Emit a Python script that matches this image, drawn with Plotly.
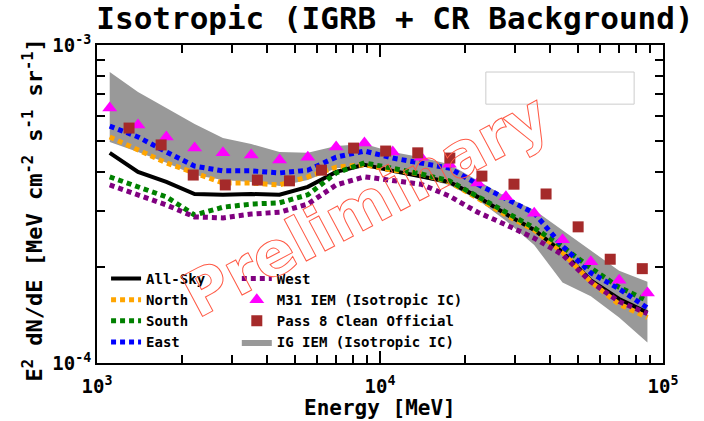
import numpy as np
import plotly.graph_objects as go

# ---------------- data ----------------
energy = [1109, 1396, 1758, 2213, 2786, 3508, 4416, 5559, 6998, 8811,
          11092, 13964, 17579, 22131, 27861, 35075, 44157, 55590, 69984, 88105]

all_sky = [4.58e-4, 3.99e-4, 3.71e-4, 3.40e-4, 3.38e-4, 3.40e-4, 3.38e-4, 3.58e-4, 3.99e-4, 4.20e-4,
           4.02e-4, 3.87e-4, 3.71e-4, 3.33e-4, 2.94e-4, 2.62e-4, 2.23e-4, 1.82e-4, 1.59e-4, 1.44e-4]
north = [5.14e-4, 4.68e-4, 4.26e-4, 3.96e-4, 3.68e-4, 3.68e-4, 3.63e-4, 3.85e-4, 4.13e-4, 4.20e-4,
         4.04e-4, 3.93e-4, 3.71e-4, 3.30e-4, 2.92e-4, 2.62e-4, 2.23e-4, 1.80e-4, 1.53e-4, 1.39e-4]
south = [3.85e-4, 3.58e-4, 3.33e-4, 2.92e-4, 3.09e-4, 3.16e-4, 3.19e-4, 3.38e-4, 3.96e-4, 4.26e-4,
         4.10e-4, 3.93e-4, 3.74e-4, 3.33e-4, 2.96e-4, 2.66e-4, 2.32e-4, 1.99e-4, 1.73e-4, 1.57e-4]
east = [5.56e-4, 5.14e-4, 4.61e-4, 4.16e-4, 4.02e-4, 4.02e-4, 3.96e-4, 4.04e-4, 4.44e-4, 4.64e-4,
        4.41e-4, 4.26e-4, 4.10e-4, 3.65e-4, 3.30e-4, 2.96e-4, 2.33e-4, 1.92e-4, 1.71e-4, 1.49e-4]
west = [3.63e-4, 3.38e-4, 3.14e-4, 2.88e-4, 2.86e-4, 2.94e-4, 2.98e-4, 3.16e-4, 3.63e-4, 3.85e-4,
        3.76e-4, 3.65e-4, 3.35e-4, 2.98e-4, 2.72e-4, 2.47e-4, 2.19e-4, 1.80e-4, 1.56e-4, 1.43e-4]
m31_iem = [6.34e-4, 5.60e-4, 5.14e-4, 4.74e-4, 4.58e-4, 4.51e-4, 4.35e-4, 4.44e-4, 4.78e-4, 4.92e-4,
           4.61e-4, 4.44e-4, 4.22e-4, 3.68e-4, 3.33e-4, 2.96e-4, 2.44e-4, 2.08e-4, 1.82e-4, 1.66e-4]
ig_iem_high = [8.22e-4, 7.12e-4, 6.34e-4, 5.64e-4, 5.10e-4, 4.88e-4, 4.61e-4, 4.58e-4, 4.81e-4, 4.88e-4,
               4.61e-4, 4.44e-4, 4.22e-4, 3.76e-4, 3.33e-4, 3.03e-4, 2.62e-4, 2.27e-4, 1.95e-4, 1.80e-4]
ig_iem_low = [4.95e-4, 4.61e-4, 4.26e-4, 3.90e-4, 3.76e-4, 3.71e-4, 3.60e-4, 3.76e-4, 4.10e-4, 4.16e-4,
              3.99e-4, 3.82e-4, 3.63e-4, 3.26e-4, 2.80e-4, 2.35e-4, 1.79e-4, 1.62e-4, 1.39e-4, 1.16e-4]

pass8_energy = [1000, 1298, 1685, 2188, 2840, 3687, 4787, 6214, 8068, 10473,
                13597, 17651, 22915, 29749, 38620, 50137, 65088, 84498]
pass8_clean = [5.94e-4, 5.48e-4, 4.85e-4, 3.90e-4, 3.63e-4, 3.76e-4, 3.74e-4, 4.04e-4, 4.74e-4, 4.64e-4,
               4.58e-4, 4.41e-4, 3.87e-4, 3.65e-4, 3.40e-4, 2.68e-4, 2.12e-4, 1.98e-4]

x_tick_vals = [1e3, 1e4, 1e5]
x_tick_text = ["10<sup>3</sup>", "10<sup>4</sup>", "10<sup>5</sup>"]
y_tick_vals = [1e-4, 1e-3]
y_tick_text = ["10<sup>-4</sup>", "10<sup>-3</sup>"]

FONT = "DejaVu Sans Mono"
DOT = "5px,4px"

x_minor = [m * 10.0 ** k for k in (3, 4) for m in range(2, 10)]
y_minor = [m * 1e-4 for m in range(2, 10)]

fig = go.Figure()

# gray band (IG IEM)
fig.add_trace(go.Scatter(x=energy, y=ig_iem_low, mode="lines", line=dict(width=0, color="rgb(153,153,153)"),
                         showlegend=False, hoverinfo="skip"))
fig.add_trace(go.Scatter(x=energy, y=ig_iem_high, mode="lines", fill="tonexty",
                         fillcolor="rgb(153,153,153)", line=dict(width=0, color="rgb(153,153,153)"),
                         name="IG IEM (Isotropic IC)", legend="legend2", legendrank=4))

fig.add_trace(go.Scatter(x=energy, y=all_sky, mode="lines", name="All-Sky",
                         line=dict(color="black", width=4), legendrank=1))
fig.add_trace(go.Scatter(x=energy, y=north, mode="lines", name="North",
                         line=dict(color="rgb(255,165,0)", width=5, dash=DOT), legendrank=2))
fig.add_trace(go.Scatter(x=energy, y=south, mode="lines", name="South",
                         line=dict(color="rgb(0,128,0)", width=5, dash=DOT), legendrank=3))
fig.add_trace(go.Scatter(x=energy, y=east, mode="lines", name="East",
                         line=dict(color="rgb(0,0,255)", width=5, dash=DOT), legendrank=4))
fig.add_trace(go.Scatter(x=energy, y=west, mode="lines", name="West",
                         line=dict(color="rgb(128,0,128)", width=5, dash=DOT),
                         legend="legend2", legendrank=1))
fig.add_trace(go.Scatter(x=energy, y=m31_iem, mode="markers", name="M31 IEM (Isotropic IC)",
                         marker=dict(symbol="triangle-up", size=13, color="rgb(255,0,255)", line=dict(width=0)),
                         legend="legend2", legendrank=2, cliponaxis=False))
fig.add_trace(go.Scatter(x=pass8_energy, y=pass8_clean, mode="markers", name="Pass 8 Clean Official",
                         marker=dict(symbol="square", size=11, color="rgb(165,42,42)", line=dict(width=0)),
                         legend="legend2", legendrank=3, cliponaxis=False))

axis_common = dict(
    type="log", showgrid=False, zeroline=False, automargin=False,
    showline=True, linecolor="black", linewidth=2, mirror="allticks",
    ticks="inside", ticklen=12, tickwidth=2, tickcolor="black",
    tickfont=dict(family=FONT, size=19, color="black", weight="bold"),
)

fig.update_xaxes(
    range=[3, 5], tickvals=x_tick_vals, ticktext=x_tick_text, ticklabelstandoff=5,
    minor=dict(tickvals=x_minor, ticks="inside", ticklen=8, tickwidth=1.5, tickcolor="black"),
    **axis_common,
)
fig.update_yaxes(
    range=[-4, -3], tickvals=y_tick_vals, ticktext=y_tick_text,
    minor=dict(tickvals=y_minor, ticks="inside", ticklen=8, tickwidth=1.5, tickcolor="black"),
    **axis_common,
)

legend_style = dict(
    bgcolor="rgba(0,0,0,0)", borderwidth=0, itemwidth=30, tracegroupgap=0,
    font=dict(family=FONT, size=14, color="black", weight="bold"),
    xanchor="left", yanchor="top", orientation="v", traceorder="normal",
)

fig.update_layout(
    width=704, height=421,
    margin=dict(l=97, r=41, t=45, b=58, autoexpand=False),
    paper_bgcolor="white", plot_bgcolor="white",
    font=dict(family=FONT, color="black"),
    title=dict(text="Isotropic (IGRB + CR Background)", x=0.561, xref="container", xanchor="center",
               y=0.957, yref="container", yanchor="middle",
               font=dict(family=FONT, size=31, color="black", weight="bold")),
    legend=dict(x=0.016, y=0.315, **legend_style),
    legend2=dict(x=0.247, y=0.315, **legend_style),
    showlegend=True,
    shapes=[dict(type="rect", xref="paper", yref="paper", x0=0.687, x1=0.949, y0=0.814, y1=0.915,
                 line=dict(color="rgb(204,204,204)", width=1), fillcolor="white", layer="above")],
    annotations=[
        dict(text="Energy [MeV]", xref="paper", yref="paper", x=0.5, y=-0.14,
             xanchor="center", yanchor="middle", showarrow=False,
             font=dict(family=FONT, size=21, color="black", weight="bold")),
        dict(text="E<sup>2</sup> dN/dE [MeV cm<sup>-2</sup> s<sup>-1</sup> sr<sup>-1</sup>]",
             xref="paper", yref="paper", x=-0.113, y=0.48, textangle=-90,
             xanchor="center", yanchor="middle", showarrow=False,
             font=dict(family=FONT, size=22, color="black", weight="bold")),
        dict(text="Preliminary", xref="paper", yref="paper", x=0.4735, y=0.494,
             xanchor="center", yanchor="middle", showarrow=False, textangle=-28,
             font=dict(family="DejaVu Sans", size=62, color="rgba(255,90,70,0.35)", weight="bold")),
    ],
)

post = """
document.body.style.margin = '0';
var gd = document.getElementById('{plot_id}');
function wm(){
  var ts = gd.querySelectorAll('text.annotation-text');
  for (var i = 0; i < ts.length; i++) {
    if (ts[i].textContent.indexOf('Preliminary') >= 0) {
      ts[i].style.fill = 'none';
      ts[i].style.stroke = 'rgb(255,90,70)';
      ts[i].style.strokeWidth = '1px';
    }
  }
}
wm();
gd.on('plotly_afterplot', wm);
"""

fig.write_html("out.html", post_script=post, config={"displayModeBar": False})
